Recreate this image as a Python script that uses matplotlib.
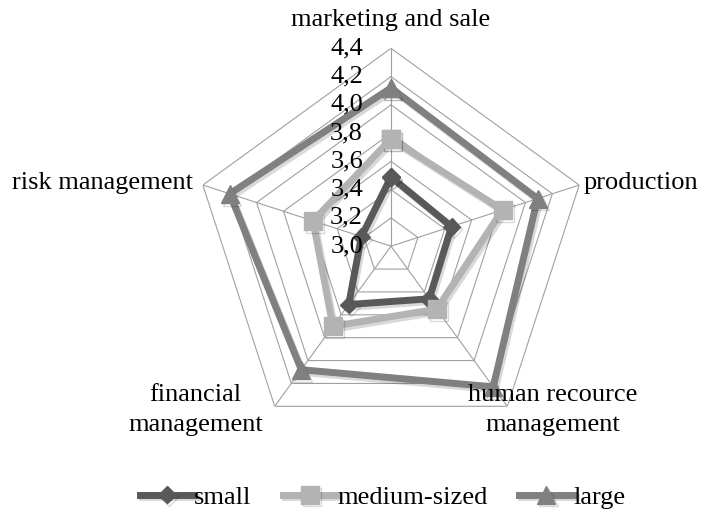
import numpy as np
import matplotlib
matplotlib.use("Agg")
import matplotlib.pyplot as plt
import matplotlib.patheffects as pe

categories = ["marketing and sale", "production", "human recource\nmanagement",
              "financial\nmanagement", "risk management"]
series_names = ["small", "medium-sized", "large"]
small = [3.49, 3.45, 3.46, 3.51, 3.22]
medium = [3.76, 3.83, 3.55, 3.70, 3.58]
large = [4.12, 4.09, 4.23, 4.08, 4.20]
tick_values = [3.0, 3.2, 3.4, 3.6, 3.8, 4.0, 4.2, 4.4]
tick_labels = ["3,0", "3,2", "3,4", "3,6", "3,8", "4,0", "4,2", "4,4"]

colors = ["#595959", "#b3b3b3", "#808080"]
markers = ["D", "s", "^"]
msizes = [9, 13, 13]

plt.rcParams['font.family'] = ['Liberation Serif', 'DejaVu Serif']
fs = 19

fig = plt.figure(figsize=(7.05, 5.14), dpi=100)
ax = fig.add_axes([0.2738, 0.136, 0.5617, 0.770], projection='polar')
ax.set_theta_zero_location('N')
ax.set_theta_direction(-1)
ax.set_ylim(3.0, 4.4)
ax.grid(False)
ax.set_xticks([])
ax.set_yticks([])
ax.spines['polar'].set_visible(False)
ax.patch.set_visible(False)

n = len(categories)
angles = np.linspace(0, 2 * np.pi, n, endpoint=False)
closed = np.concatenate([angles, angles[:1]])

grid_c = "#a0a0a0"
for v in tick_values[1:]:
    ax.plot(closed, [v] * (n + 1), color=grid_c, lw=0.8, zorder=1)
for a in angles:
    ax.plot([a, a], [3.0, 4.4], color=grid_c, lw=0.8, zorder=1)

for v, lab in zip(tick_values, tick_labels):
    ax.annotate(lab, xy=(0, v), xytext=(-28, 0), textcoords='offset pixels',
                ha='right', va='center', fontsize=fs, zorder=5)

for name, vals, c, m, ms in zip(series_names, [small, medium, large], colors, markers, msizes):
    vv = list(vals) + [vals[0]]
    ax.plot(closed, vv, color=c, lw=5, marker=m, markersize=ms, label=name,
            zorder=3, clip_on=False,
            path_effects=[pe.SimpleLineShadow(offset=(1.5, -2), alpha=0.15), pe.Normal()])

offsets = [((0, 28), 'center'), ((4, 2), 'left'), ((45, -4), 'center'),
           ((-79, -4), 'center'), ((-10, 2), 'right')]
for a, lab, (off, ha) in zip(angles, categories, offsets):
    ax.annotate(lab, xy=(a, 4.4), xytext=off, textcoords='offset pixels',
                ha=ha, va='center', multialignment='center', fontsize=fs,
                linespacing=1.45)

fig.legend(loc='center', bbox_to_anchor=(0.543, 0.033), ncol=3, frameon=False,
           fontsize=fs, handlelength=2.05, handletextpad=0.0, columnspacing=1.2)

fig.savefig("out.png", dpi=100)
